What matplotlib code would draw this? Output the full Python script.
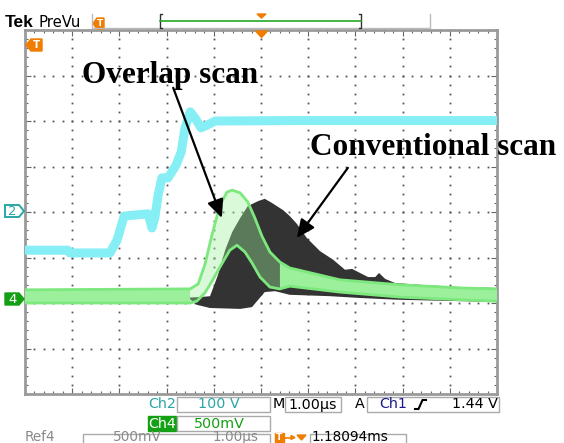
import numpy as np
import matplotlib
matplotlib.use('Agg')
import matplotlib.pyplot as plt
from matplotlib.patches import Polygon, Rectangle

# ---------------- data (time in µs, level in divisions, 0 = centre) ----------------
ch2_t = [0.00, 0.91, 0.95, 1.80, 1.95, 2.10, 2.61, 2.69, 2.75, 2.82, 2.90, 3.03, 3.20,
         3.31, 3.39, 3.50, 3.60, 3.73, 3.86, 4.03, 5.83, 10.0]
ch2_v = [-0.84, -0.84, -0.90, -0.90, -0.62, -0.09, -0.04, -0.35, -0.13, 0.37, 0.75, 0.75,
         1.03, 1.32, 1.85, 2.20, 2.07, 1.85, 1.91, 2.00, 2.01, 2.01]

# Ch4 (overlap scan) envelope
ch4_up_t = [0.00, 3.50, 3.67, 3.81, 3.96, 4.13, 4.28, 4.39, 4.56, 4.72, 4.87, 5.02, 5.19,
            5.40, 5.61, 6.67, 7.94, 9.26, 10.0]
ch4_up_v = [-1.71, -1.69, -1.58, -1.16, -0.51, 0.15, 0.44, 0.48, 0.42, 0.22, -0.13, -0.53,
            -0.88, -1.10, -1.23, -1.49, -1.60, -1.67, -1.69]
ch4_lo_t = [0.00, 3.50, 3.64, 3.81, 3.98, 4.13, 4.34, 4.49, 4.66, 4.81, 4.98, 5.19, 5.40,
            5.61, 6.67, 7.94, 9.26, 10.0]
ch4_lo_v = [-2.00, -2.00, -1.96, -1.78, -1.49, -1.21, -0.84, -0.73, -0.88, -1.12, -1.43,
            -1.65, -1.69, -1.63, -1.76, -1.87, -1.93, -1.96]

# Ref4 (conventional scan) envelope
ref4_up_t = [3.45, 3.71, 3.92, 4.09, 4.24, 4.39, 4.56, 4.72, 4.94, 5.08, 5.23, 5.47, 5.61,
             5.76, 5.97, 6.25, 6.53, 6.78, 6.93, 7.06, 7.27, 7.42, 7.50, 7.63, 7.84, 8.37,
             9.22, 10.0]
ref4_up_v = [-1.88, -1.87, -1.85, -1.38, -0.84, -0.44, -0.13, 0.13, 0.24, 0.29, 0.20, 0.04,
             -0.09, -0.26, -0.57, -0.86, -1.05, -1.27, -1.25, -1.32, -1.43, -1.43, -1.34,
             -1.47, -1.56, -1.60, -1.65, -1.67]
ref4_lo_t = [3.45, 3.64, 3.92, 4.56, 4.81, 4.94, 5.08, 5.30, 5.61, 6.46, 7.10, 7.94, 9.26, 10.0]
ref4_lo_v = [-1.88, -2.04, -2.11, -2.13, -2.09, -1.93, -1.76, -1.74, -1.82, -1.85, -1.89,
             -1.93, -1.96, -1.98]

# readout texts
ch2_scale = '100 V'
ch4_scale = '500mV'
time_scale = '1.00µs'
trig_src = 'Ch1'
trig_level = '1.44 V'
ref4_scale = '500mV'
ref4_time = '1.00µs'
trig_pos = '1.18094ms'

# ---------------- figure ----------------
W, H = 564, 443
L, R, T, B = 25, 497, 30, 394
fig = plt.figure(figsize=(W / 100, H / 100), dpi=100)
fig.patch.set_facecolor('white')
ax = fig.add_axes([L / W, 1 - B / H, (R - L) / W, (B - T) / H])
ax.set_xlim(0, 10)
ax.set_ylim(-4, 4)

# graticule dots
ys = np.arange(-4, 4.001, 0.2)
xs = np.arange(0, 10.001, 0.2)
for gx in range(1, 10):
    ax.plot(np.full_like(ys, gx), ys, ls='none', marker='s', ms=1.3, mew=0,
            color='#555555', zorder=1)
for gy in range(-3, 4):
    ax.plot(xs, np.full_like(xs, gy), ls='none', marker='s', ms=1.3, mew=0,
            color='#555555', zorder=1)

ax.set_xticks(range(0, 11))
ax.set_yticks(range(-4, 5))
ax.set_xticks(xs, minor=True)
ax.set_yticks(ys, minor=True)
ax.tick_params(which='both', direction='in', top=True, right=True,
               labelbottom=False, labelleft=False, color='#666666', width=0.8)
ax.tick_params(which='major', length=4)
ax.tick_params(which='minor', length=2.5)
for s in ax.spines.values():
    s.set_color('#9a9a9a')
    s.set_linewidth(2)

# Ref4 trace (dark)
ax.fill(np.r_[ref4_up_t, ref4_lo_t[::-1]], np.r_[ref4_up_v, ref4_lo_v[::-1]],
        color='#333333', lw=0, zorder=2)

# Ch4 trace (green envelope)
ut, uv = np.array(ch4_up_t), np.array(ch4_up_v)
lt, lv = np.array(ch4_lo_t), np.array(ch4_lo_v)
green = '#9cf09c'
for lo_b, hi_b, alpha in [(0.0, 3.50, 1.0), (3.50, 5.40, 0.38), (5.40, 10.0, 1.0)]:
    mu = (ut >= lo_b) & (ut <= hi_b)
    ml = (lt >= lo_b) & (lt <= hi_b)
    ax.fill(np.r_[ut[mu], lt[ml][::-1]], np.r_[uv[mu], lv[ml][::-1]],
            color=green, alpha=alpha, lw=0, zorder=3)
ax.plot(ut, uv, color='#7de87d', lw=2.0, zorder=4)
ax.plot(lt, lv, color='#7de87d', lw=2.0, zorder=4)

# Ch2 trace (cyan)
ax.plot(ch2_t, ch2_v, color='#86eef5', lw=6.5, solid_joinstyle='round',
        solid_capstyle='butt', zorder=5)

# annotations
arrow = dict(arrowstyle='-|>,head_length=0.55,head_width=0.25', mutation_scale=20,
             lw=1.6, color='black', shrinkA=0, shrinkB=0)
ax.annotate('', xy=(4.17, -0.13), xytext=(3.14, 2.73), arrowprops=arrow, zorder=6)
ax.annotate('', xy=(5.76, -0.57), xytext=(6.84, 0.97), arrowprops=arrow, zorder=6)
ax.text(1.21, 2.835, 'Overlap scan', family='Liberation Serif', weight='bold',
        size=22.5, ha='left', va='baseline', zorder=7)
ax.text(6.04, 1.25, 'Conventional scan', family='Liberation Serif', weight='bold',
        size=22.5, ha='left', va='baseline', zorder=7)

# ---------------- scope UI overlay (pixel coordinates) ----------------
ui = fig.add_axes([0, 0, 1, 1], zorder=10)
ui.set_xlim(0, W)
ui.set_ylim(H, 0)
ui.axis('off')
orange = '#f07d00'
teal = '#2aa6a6'
dgreen = '#14a014'

ui.text(5, 27, 'Tek', family='Liberation Sans', weight='bold', size=12.5, va='baseline')
ui.text(38, 27, 'PreVu', family='DejaVu Sans', size=10.7, va='baseline')
ui.plot([92, 92, 430, 430], [14, 28, 28, 14], color='#bbbbbb', lw=1)
ui.plot([162, 160, 160, 162], [14, 14, 28, 28], color='#333333', lw=1)
ui.plot([359, 361, 361, 359], [14, 14, 28, 28], color='#333333', lw=1)
ui.plot([160, 361], [21, 21], color='#22aa22', lw=1.2)
ui.add_patch(Polygon([(257, 14), (266, 14), (261.5, 18)], closed=True, color=orange))
ui.add_patch(Polygon([(93, 23.5), (97, 18), (104, 18), (104, 29), (97, 29)],
                     closed=True, color=orange))
ui.text(100, 23.8, 'T', color='white', weight='bold', size=6.5, ha='center', va='center')

# trigger position and trigger level markers
ui.add_patch(Polygon([(255.5, 31), (267.5, 31), (261.5, 37.5)], closed=True, color=orange))
ui.add_patch(Polygon([(26, 45), (31, 39), (42, 39), (42, 51), (31, 51)], closed=True,
                     color=orange))
ui.text(36.5, 45.3, 'T', color='white', weight='bold', size=7.5, ha='center', va='center')

# channel ground markers
ui.add_patch(Polygon([(5, 205), (19, 205), (24, 211), (19, 217), (5, 217)], closed=True,
                     facecolor='white', edgecolor=teal, lw=1.4))
ui.text(12.5, 211.3, '2', color=teal, size=9.5, ha='center', va='center')
ui.add_patch(Polygon([(5, 293), (19, 293), (24, 299), (19, 305), (5, 305)], closed=True,
                     color=dgreen))
ui.text(12.5, 299.3, '4', color='white', size=9.5, ha='center', va='center')

# readouts
fs = 10.3
def box(x, y, w, h, fc='white', ec='#aaaaaa'):
    ui.add_patch(Rectangle((x, y), w, h, facecolor=fc, edgecolor=ec, lw=1))

y1 = 404.5
ui.text(176, y1, 'Ch2', color=teal, size=fs, ha='right', va='center')
box(177, 397, 93, 15)
ui.text(219, y1, ch2_scale, color=teal, size=fs, ha='center', va='center')
ui.text(272.5, y1, 'M', color='black', size=fs, ha='left', va='center')
box(285, 397, 56, 15)
ui.text(313, y1, time_scale, color='black', size=fs, ha='center', va='center')
ui.text(360, y1, 'A', color='black', size=fs, ha='center', va='center')
box(367, 397, 132, 15)
ui.text(379, y1, trig_src, color='#1a1a8c', size=fs, ha='left', va='center')
ui.plot([415, 418.5, 422.5, 426], [409, 409, 400, 400], color='black', lw=1.5)
ui.text(498, y1, trig_level, color='black', size=fs, ha='right', va='center')

y2 = 423.5
box(147.5, 416, 28.5, 15, fc=dgreen, ec=dgreen)
ui.text(162, y2, 'Ch4', color='white', size=fs, ha='center', va='center')
box(177, 416, 93, 15)
ui.text(219, y2, ch4_scale, color=dgreen, size=fs, ha='center', va='center')

y3 = 437.2
fs3 = 9.8
ui.text(24.5, y3, 'Ref4', color='#8a8a8a', size=fs3, ha='left', va='center')
box(83, 434, 187, 15)
ui.text(137.5, y3, ref4_scale, color='#8a8a8a', size=fs3, ha='center', va='center')
ui.text(235.5, y3, ref4_time, color='#8a8a8a', size=fs3, ha='center', va='center')
ui.add_patch(Rectangle((275, 433), 9, 9, color=orange))
ui.text(279.5, 437.6, 'T', color='white', weight='bold', size=6.5, ha='center', va='center')
ui.plot([285, 293], [437.5, 437.5], color=orange, lw=1.2)
ui.add_patch(Polygon([(291, 435.5), (295, 437.5), (291, 439.5)], closed=True, color=orange))
ui.add_patch(Polygon([(297, 435), (306, 435), (301.5, 440)], closed=True, color=orange))
box(310, 434, 96, 15)
ui.text(312, y3, trig_pos, color='black', size=fs3, ha='left', va='center')

fig.savefig('out.png', dpi=100, facecolor='white')
